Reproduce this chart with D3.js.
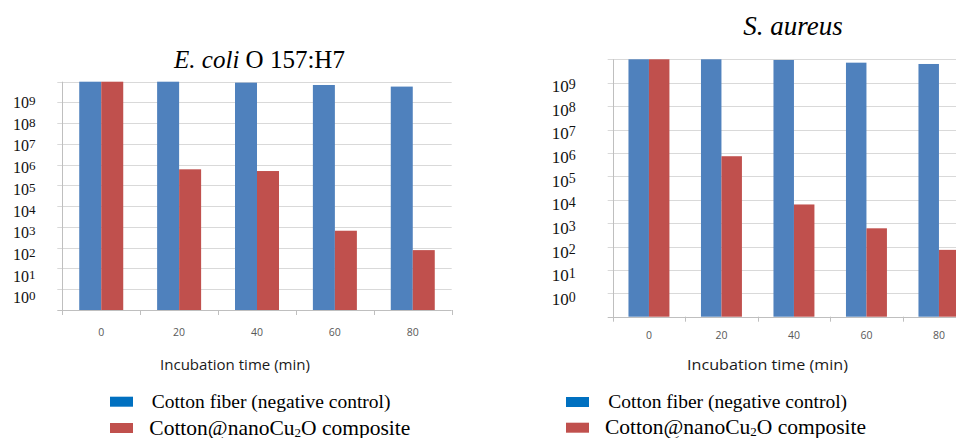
<!DOCTYPE html>
<html>
<head>
<meta charset="utf-8">
<script src="https://cdn.jsdelivr.net/npm/d3@7"></script>
<style>
  body { margin: 0; background: #fff; }
  svg { display: block; }
</style>
</head>
<body>
<div id="chart"></div>
<script>
// values (log axis, bars above the frame are cut at the top)
const times = ["0", "20", "40", "60", "80"];
const seriesNames = ["Cotton fiber (negative control)", "Cotton@nanoCu2O composite"];
const ecoliControl = [1e10, 1e10, 8.2e9, 6.4e9, 5.4e9];
const ecoliComposite = [1e10, 8.4e5, 7.0e5, 1.25e3, 1.6e2];
const aureusControl = [2e10, 2e10, 1.3e10, 1.0e10, 8.8e9];
const aureusComposite = [2e10, 1.1e6, 1.0e4, 9.8e2, 1.2e2];
const yExponents = [0, 1, 2, 3, 4, 5, 6, 7, 8, 9];
const gridSteps = 11;
const xTitle = "Incubation time (min)";

const barColors = ["#4F81BD", "#C0504D"];
const legendColors = ["#0070C0", "#C0504D"];

const svg = d3.select('#chart')
    .append('svg')
    .attr('width', 956)
    .attr('height', 438);

// one panel = one figure half
function drawPanel(p) {
    const g = svg.append('g');

    // label scale: 10^0 .. 10^9 where the labels sit, extended to the frame
    const y = d3.scaleLog().domain([1, 1e9]).range([p.label0, p.label9]);
    y.domain([y.invert(p.bottom), y.invert(p.top)]).range([p.bottom, p.top]).clamp(true);

    const grid = d3.scaleLinear().domain([0, gridSteps]).range([p.bottom, p.top]);

    const x = d3.scaleBand().domain(times).range([p.left, p.right]).padding(0);
    const xSub = d3.scaleBand().domain([0, 1]).range([0, x.bandwidth()])
        .paddingInner(0).paddingOuter(0.77);

    // gridlines
    g.append('g')
        .selectAll('line')
        .data(grid.ticks(gridSteps))
        .join('line')
        .attr('x1', p.left - 5)
        .attr('x2', p.right)
        .attr('y1', d => Math.round(grid(d)) + 0.5)
        .attr('y2', d => Math.round(grid(d)) + 0.5)
        .attr('stroke', d => d === 0 ? '#BFBFBF' : '#D9D9D9')
        .attr('stroke-width', 1);

    // y axis line
    g.append('line')
        .attr('x1', Math.round(p.left) + 0.5)
        .attr('x2', Math.round(p.left) + 0.5)
        .attr('y1', p.top)
        .attr('y2', p.bottom + 1)
        .attr('stroke', '#BFBFBF');

    // x tick marks at category boundaries
    const bounds = times.map(t => x(t)).concat([p.right]);
    g.append('g')
        .selectAll('line')
        .data(bounds)
        .join('line')
        .attr('x1', d => Math.round(d) + 0.5)
        .attr('x2', d => Math.round(d) + 0.5)
        .attr('y1', p.bottom)
        .attr('y2', p.bottom + 5)
        .attr('stroke', '#BFBFBF');

    // bars
    [p.control, p.composite].forEach((values, s) => {
        g.append('g')
            .selectAll('rect')
            .data(values)
            .join('rect')
            .attr('x', (d, i) => x(times[i]) + xSub(s))
            .attr('y', d => y(d))
            .attr('width', xSub.bandwidth())
            .attr('height', d => p.bottom - y(d))
            .attr('fill', barColors[s]);
    });

    // y labels 10^n
    const lab = g.append('g')
        .selectAll('text')
        .data(yExponents)
        .join('text')
        .attr('x', p.labelX)
        .attr('y', d => y(Math.pow(10, d)) + p.labelSize * 0.34)
        .attr('font-family', 'Liberation Serif, Times New Roman, serif')
        .attr('font-size', p.labelSize)
        .attr('fill', '#111');
    lab.append('tspan').text('10');
    lab.append('tspan')
        .attr('dy', -p.labelSize * 0.19)
        .attr('font-size', p.labelSize * 0.82)
        .text(d => d);

    // category labels
    g.append('g')
        .selectAll('text')
        .data(times)
        .join('text')
        .attr('x', d => x(d) + x.bandwidth() / 2)
        .attr('y', p.catY + 4)
        .attr('text-anchor', 'middle')
        .attr('font-family', 'Open Sans, sans-serif')
        .attr('font-size', 10.5)
        .attr('fill', '#595959')
        .text(d => d);

    // axis title
    g.append('text')
        .attr('x', p.xTitleX)
        .attr('y', p.xTitleY + 5)
        .attr('text-anchor', 'middle')
        .attr('font-family', 'Open Sans, sans-serif')
        .attr('font-size', 14)
        .attr('fill', '#1a1a1a')
        .attr('textLength', p.xTitleW)
        .attr('lengthAdjust', 'spacingAndGlyphs')
        .text(xTitle);

    // chart title
    const title = g.append('text')
        .attr('x', p.titleX)
        .attr('y', p.titleY)
        .attr('text-anchor', 'middle')
        .attr('font-family', 'Liberation Serif, Times New Roman, serif')
        .attr('font-size', p.titleSize)
        .attr('fill', '#000');
    p.titleParts.forEach(part => {
        title.append('tspan')
            .attr('font-style', part.italic ? 'italic' : 'normal')
            .text(part.t);
    });

    // legend
    const leg = g.append('g');
    leg.selectAll('rect')
        .data(seriesNames)
        .join('rect')
        .attr('x', p.legendX)
        .attr('y', (d, i) => p.legendY[i] - 5)
        .attr('width', 23)
        .attr('height', 10)
        .attr('fill', (d, i) => legendColors[i]);

    leg.append('text')
        .attr('x', p.legendTextX[0])
        .attr('y', p.legendY[0] + 6)
        .attr('font-family', 'Liberation Serif, Times New Roman, serif')
        .attr('font-size', 19.5)
        .attr('fill', '#000')
        .text(seriesNames[0]);

    const t2 = leg.append('text')
        .attr('x', p.legendTextX[1])
        .attr('y', p.legendY[1] + 6.5)
        .attr('font-family', 'Liberation Serif, Times New Roman, serif')
        .attr('font-size', 21.5)
        .attr('fill', '#000');
    t2.append('tspan').text('Cotton@nanoCu');
    t2.append('tspan').attr('dy', 2).attr('font-size', 13).text('2');
    t2.append('tspan').attr('dy', -2).text('O composite');
}

drawPanel({
    control: ecoliControl, composite: ecoliComposite,
    left: 62.3, right: 451.7, top: 81.7, bottom: 310,
    label0: 298, label9: 102.5, labelX: 13, labelSize: 16,
    catY: 332.3, xTitleX: 235, xTitleY: 365, xTitleW: 150,
    titleX: 259.5, titleY: 68, titleSize: 25,
    titleParts: [{ t: 'E. coli', italic: true }, { t: ' O 157:H7' }],
    legendX: 110, legendY: [401.7, 428], legendTextX: [151.7, 149.3]
});

drawPanel({
    control: aureusControl, composite: aureusComposite,
    left: 612.7, right: 975.2, top: 59.3, bottom: 316.7,
    label0: 299, label9: 86.3, labelX: 551.7, labelSize: 17,
    catY: 335, xTitleX: 767.5, xTitleY: 365, xTitleW: 161,
    titleX: 793, titleY: 35, titleSize: 27,
    titleParts: [{ t: 'S. aureus', italic: true }],
    legendX: 566, legendY: [402, 427.7], legendTextX: [608.3, 605]
});
</script>
</body>
</html>
